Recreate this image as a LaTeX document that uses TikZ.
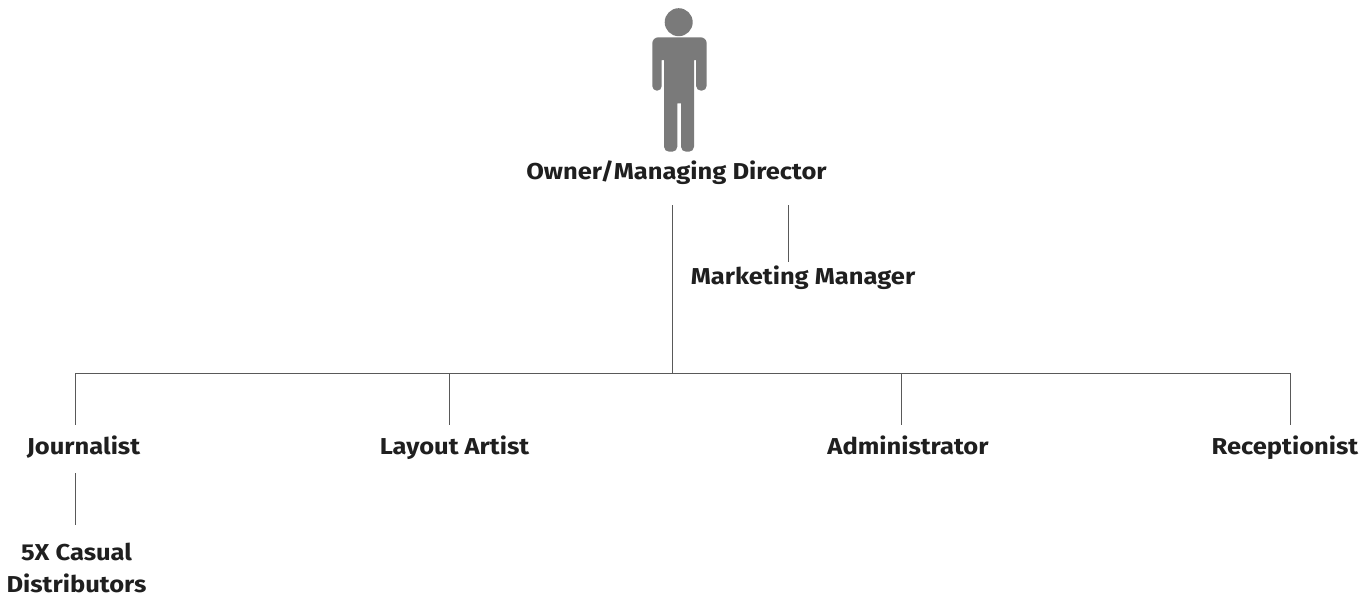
\documentclass[tikz,border=0pt]{standalone}
\usepackage{fontspec}
\setmainfont{Fira Sans}[BoldFont={Fira Sans Bold},BoldFeatures={FakeStretch=1.11}]
\tikzset{
  lbl/.style={font=\bfseries\fontsize{23}{32}\selectfont,text=black!88,align=center,inner sep=0pt,outer sep=0pt,anchor=base},
  conn/.style={draw=black!65,line width=1pt},
  figure/.style={fill=black!52,draw=none}
}
\begin{document}
\begin{tikzpicture}[x=1pt,y=-1pt]
\useasboundingbox (0,0) rectangle (1368,595);
% figure
\fill[figure] (678.7,22.2) circle (14);
\fill[figure] (661.7,60) [rounded corners=4.6pt] -- (661.7,90.7) -- (652.3,90.7) [rounded corners=6pt] -- (652.3,37.3) -- (706.7,37.3) [rounded corners=5pt] -- (706.7,90.7) -- (696,90.7) [sharp corners] -- (696,60) -- (694,60) [rounded corners=5pt] -- (694,151.7) -- (681,151.7) [sharp corners] -- (681,103.3) -- (677.3,103.3) [rounded corners=5pt] -- (677.3,151.7) -- (664,151.7) [sharp corners] -- (664,60) -- cycle;
% labels
\node[lbl] (owner) at (676.5,179.5) {Owner/Managing Director};
\node[lbl] (marketing) at (803,284) {Marketing Manager};
\node[lbl] (journalist) at (83.5,454) {Journalist};
\node[lbl] (layout) at (454.5,454) {Layout Artist};
\node[lbl] (admin) at (908,454) {Administrator};
\node[lbl] (reception) at (1285,454) {Receptionist};
\node[lbl] (casual) at (76.5,592) {5X Casual\\Distributors};
% junctions
\coordinate (jtop) at (672.5,373);
\coordinate (bj) at (75,373);
\coordinate (bl) at (449,373);
\coordinate (ba) at (901,373);
\coordinate (br) at (1290.5,373);
\coordinate (mtop) at (788,205);
\coordinate (mbot) at (788,261.5);
\coordinate (ttop) at (672.5,205);
\coordinate (jt) at (75,425);
\coordinate (lt) at (449,425);
\coordinate (at') at (901,425);
\coordinate (rt) at (1290.5,425);
\coordinate (ct) at (75,473);
\coordinate (cb) at (75,525);
% connectors
\draw[conn] (ttop) -- (jtop);
\draw[conn] (mtop) -- (mbot);
\draw[conn] (bj) -- (br);
\draw[conn] (bj) -- (jt);
\draw[conn] (bl) -- (lt);
\draw[conn] (ba) -- (at');
\draw[conn] (br) -- (rt);
\draw[conn] (ct) -- (cb);
\end{tikzpicture}
\end{document}
